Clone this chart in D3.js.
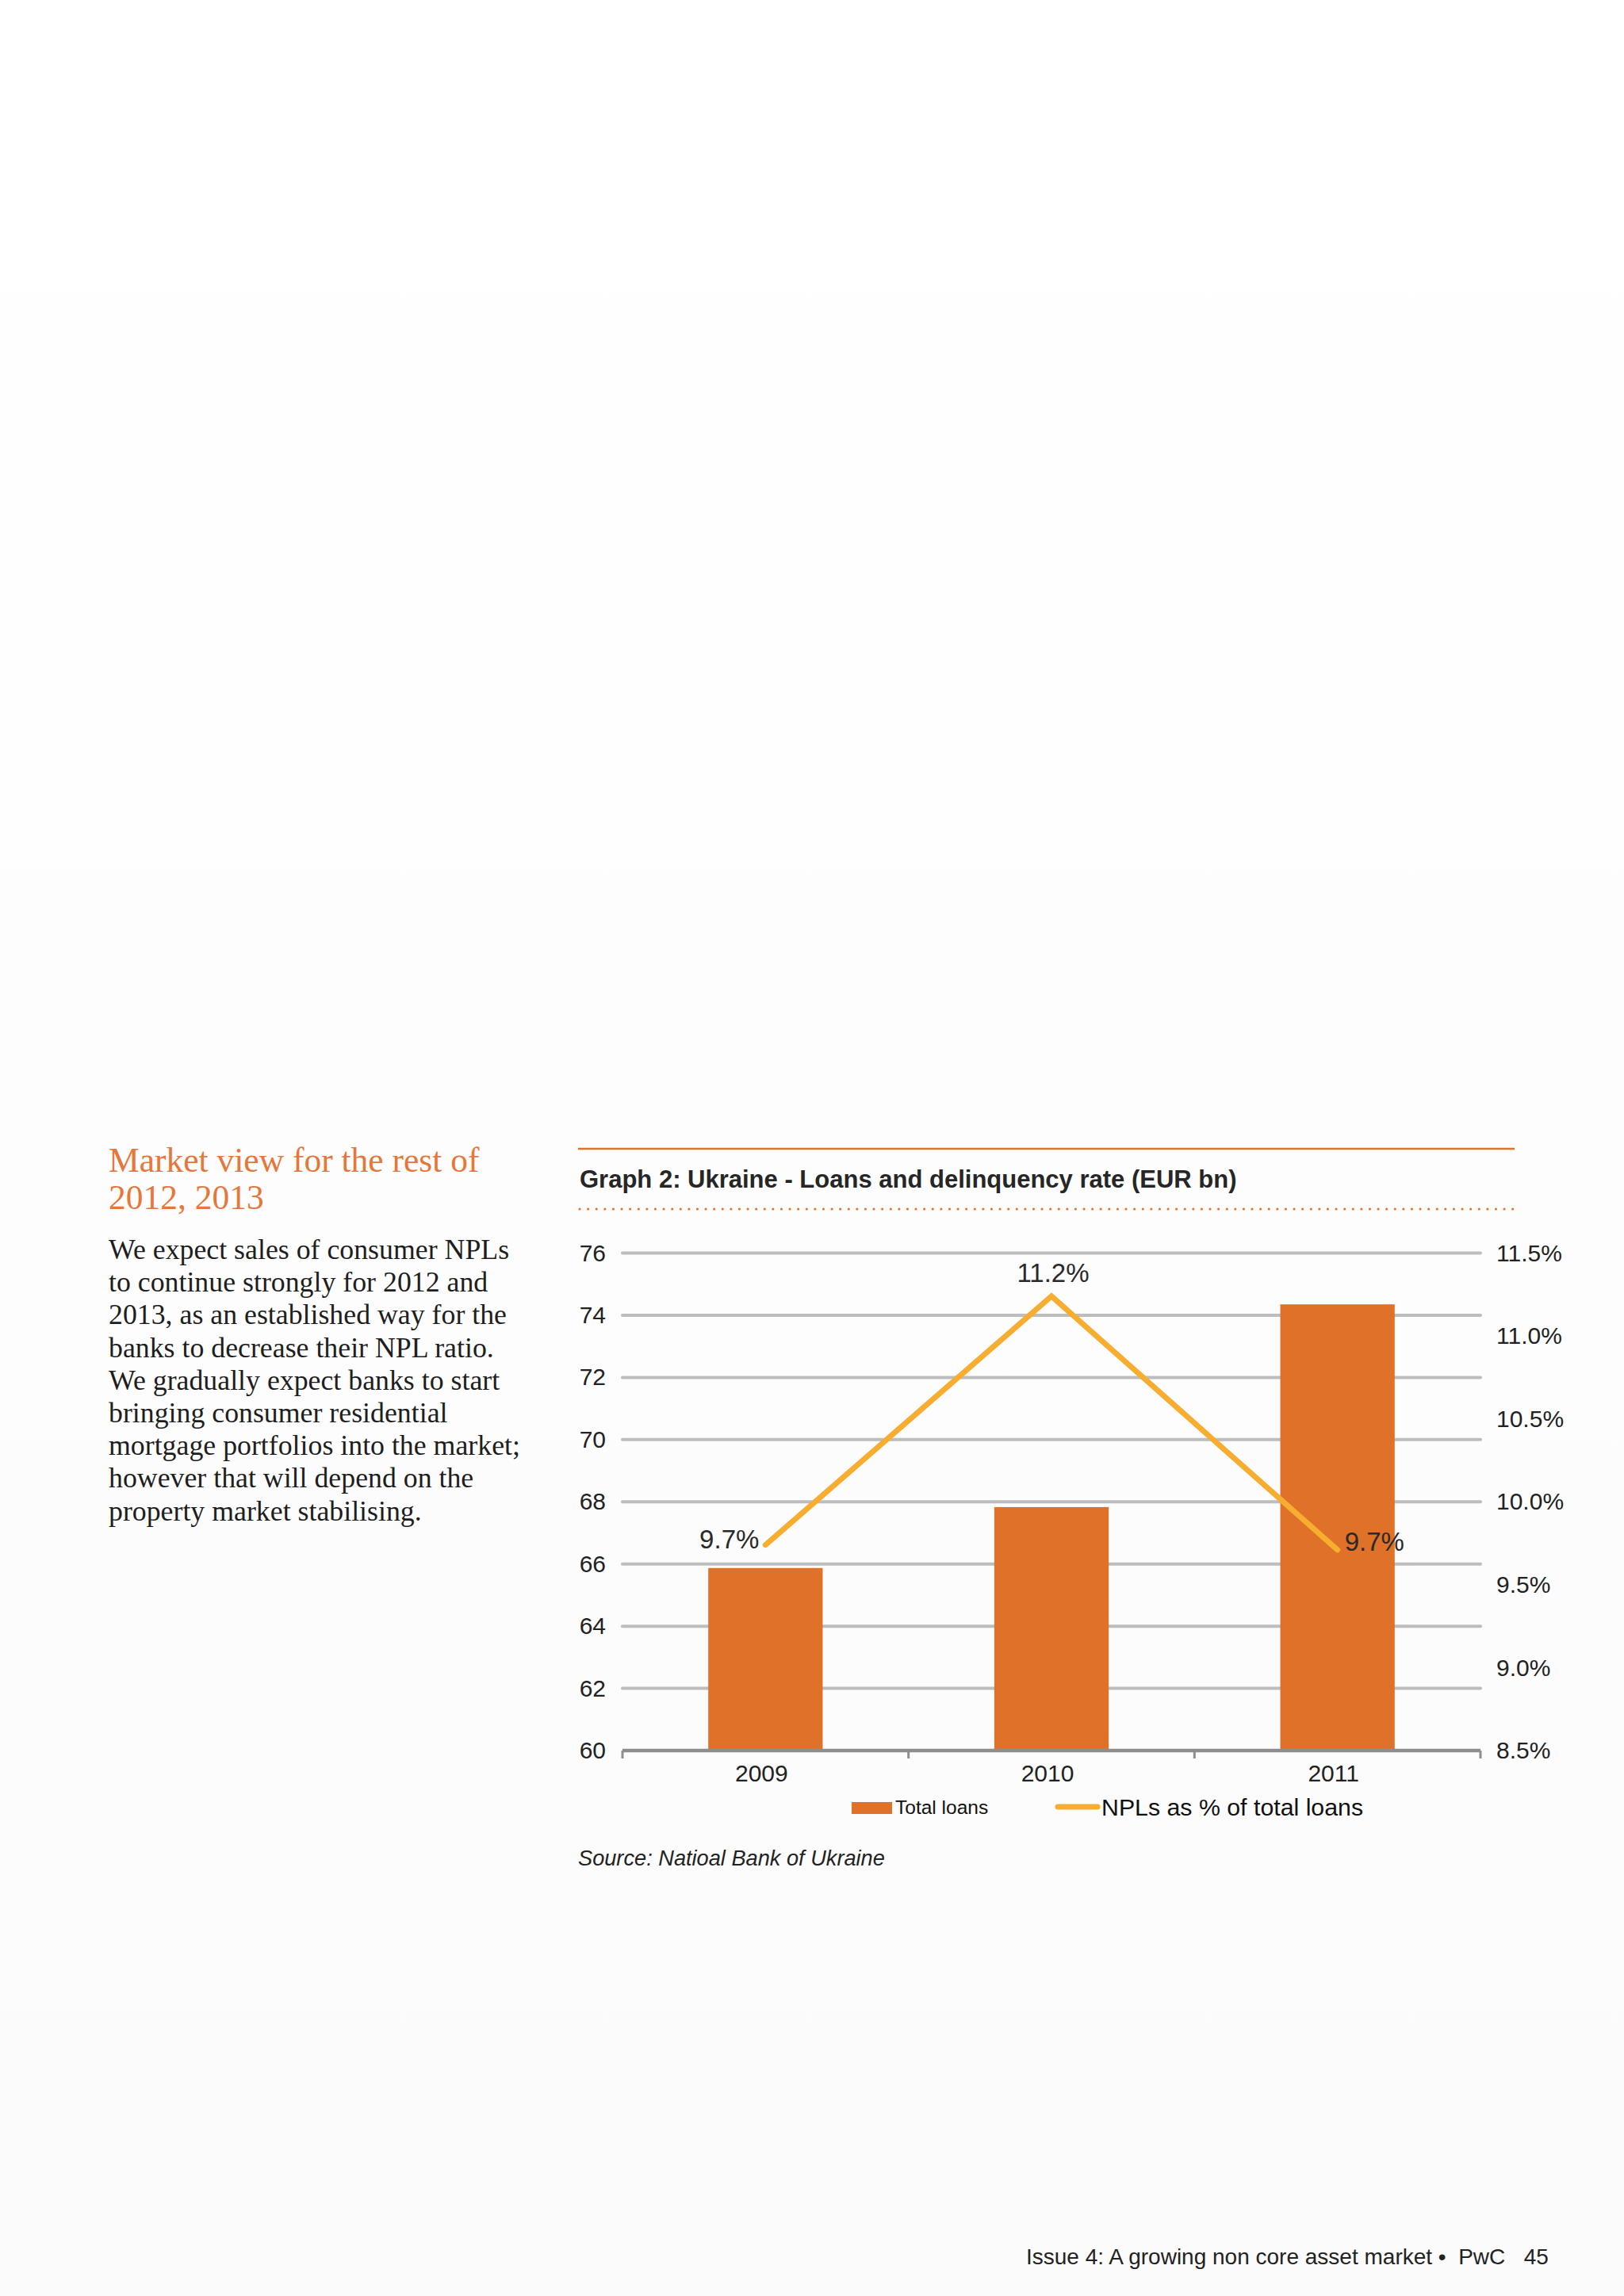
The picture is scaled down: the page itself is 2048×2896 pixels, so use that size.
<!DOCTYPE html>
<html>
<head>
<meta charset="utf-8">
<script src="https://cdn.jsdelivr.net/npm/d3@7"></script>
<style>
  html, body { margin: 0; padding: 0; background: #fefefe; }
  svg { display: block; }
</style>
</head>
<body>
<div id="page"></div>
<script>
// Data
var years = ["2009", "2010", "2011"];
var totalLoans = [65.87, 67.83, 74.35];     // EUR bn, left axis
var nplRatio = [9.74, 11.24, 9.71];         // %, right axis
var nplLabels = ["9.7%", "11.2%", "9.7%"];
var leftTicks = [60, 62, 64, 66, 68, 70, 72, 74, 76];
var rightTicks = [8.5, 9.0, 9.5, 10.0, 10.5, 11.0, 11.5];

var headingLines = ["Market view for the rest of", "2012, 2013"];
var bodyLines = [
  "We expect sales of consumer NPLs",
  "to continue strongly for 2012 and",
  "2013, as an established way for the",
  "banks to decrease their NPL ratio.",
  "We gradually expect banks to start",
  "bringing consumer residential",
  "mortgage portfolios into the market;",
  "however that will depend on the",
  "property market stabilising."
];

var W = 2048, H = 2896;
var orange = "#e07129", gold = "#f7ad30", grid = "#bdbdbf", axisCol = "#8e8e90";
var sans = "'Liberation Sans', Arial, sans-serif";
var serif = "'Liberation Serif', 'Times New Roman', serif";

var svg = d3.select("#page").append("svg")
  .attr("width", W).attr("height", H);

// faint page tone
var grad = svg.append("defs").append("linearGradient")
  .attr("id", "bg").attr("x1", 0).attr("y1", 0).attr("x2", 0).attr("y2", 1);
grad.append("stop").attr("offset", "0%").attr("stop-color", "#ffffff");
grad.append("stop").attr("offset", "100%").attr("stop-color", "#fbfbfb");
svg.append("rect").attr("width", W).attr("height", H).attr("fill", "url(#bg)");

// Left column text
svg.append("g").selectAll("text").data(headingLines).join("text")
  .attr("x", 137).attr("y", (d, i) => 1478 + i * 47)
  .style("font-family", serif).style("font-size", "43.5px")
  .attr("fill", "#e5773a").text(d => d);

svg.append("g").selectAll("text").data(bodyLines).join("text")
  .attr("x", 137).attr("y", (d, i) => 1588 + i * 41.2)
  .style("font-family", serif).style("font-size", "35.8px")
  .attr("fill", "#1e1e1e").text(d => d);

// Graph header rules + title
svg.append("line").attr("x1", 729).attr("x2", 1910).attr("y1", 1449).attr("y2", 1449)
  .attr("stroke", orange).attr("stroke-width", 2.5);
svg.append("text").attr("x", 731).attr("y", 1498)
  .style("font-family", sans).style("font-size", "31px").style("font-weight", "bold")
  .attr("fill", "#262626")
  .text("Graph 2: Ukraine - Loans and delinquency rate (EUR bn)");
svg.append("line").attr("x1", 731).attr("x2", 1910).attr("y1", 1525).attr("y2", 1525)
  .attr("stroke", orange).attr("stroke-width", 3)
  .attr("stroke-linecap", "round").attr("stroke-dasharray", "0.1 10.5");

// Scales
var x = d3.scaleBand().domain(years).range([785, 1867]).padding(0);
var yL = d3.scaleLinear().domain([60, 76]).range([2208, 1580.5]);
var yR = d3.scaleLinear().domain([8.5, 11.5]).range([2208, 1580.5]);

var plot = svg.append("g");

// gridlines
plot.append("g").selectAll("line").data(leftTicks.filter(d => d > 60)).join("line")
  .attr("x1", x.range()[0]).attr("x2", x.range()[1])
  .attr("y1", d => yL(d)).attr("y2", d => yL(d))
  .attr("stroke", grid).attr("stroke-width", 4).attr("stroke-linecap", "round");

// bars
var barW = x.bandwidth() * 0.4;
plot.append("g").selectAll("rect").data(years).join("rect")
  .attr("x", d => x(d) + (x.bandwidth() - barW) / 2)
  .attr("y", (d, i) => yL(totalLoans[i]))
  .attr("width", barW)
  .attr("height", (d, i) => yL(60) - yL(totalLoans[i]))
  .attr("fill", orange);

// category axis line + ticks
plot.append("line").attr("x1", x.range()[0]).attr("x2", x.range()[1])
  .attr("y1", yL(60)).attr("y2", yL(60))
  .attr("stroke", axisCol).attr("stroke-width", 4.5);
var bounds = years.map(d => x(d)).concat([x.range()[1]]);
plot.append("g").selectAll("line").data(bounds).join("line")
  .attr("x1", d => d).attr("x2", d => d)
  .attr("y1", yL(60)).attr("y2", yL(60) + 10)
  .attr("stroke", axisCol).attr("stroke-width", 3);

// axis labels
var leftAxis = plot.append("g").attr("transform", "translate(764,0)")
  .call(d3.axisLeft(yL).tickValues(leftTicks).tickSize(0).tickPadding(0));
var rightAxis = plot.append("g").attr("transform", "translate(1887,0)")
  .call(d3.axisRight(yR).tickValues(rightTicks).tickSize(0).tickPadding(0)
    .tickFormat(d => d3.format(".1f")(d) + "%"));
var bottomAxis = plot.append("g").attr("transform", "translate(-5," + (yL(60) + 8) + ")")
  .call(d3.axisBottom(x).tickSize(0).tickPadding(10));
[leftAxis, rightAxis, bottomAxis].forEach(function(a) {
  a.select(".domain").remove();
  a.selectAll("text").style("font-family", sans).style("font-size", "30px").attr("fill", "#222");
});

// NPL line
var pts = years.map((d, i) => [x(d) + x.bandwidth() / 2, yR(nplRatio[i])]);
plot.append("path").datum(pts)
  .attr("d", d3.line())
  .attr("fill", "none").attr("stroke", gold).attr("stroke-width", 7)
  .attr("stroke-linecap", "round").attr("stroke-linejoin", "miter");

// data labels
var labelPos = [
  { dx: -8, dy: 4, anchor: "end" },
  { dx: 2, dy: -18, anchor: "middle" },
  { dx: 9, dy: 1, anchor: "start" }
];
plot.append("g").selectAll("text").data(pts).join("text")
  .attr("x", (d, i) => d[0] + labelPos[i].dx)
  .attr("y", (d, i) => d[1] + labelPos[i].dy)
  .attr("text-anchor", (d, i) => labelPos[i].anchor)
  .style("font-family", sans).style("font-size", "33px").attr("fill", "#2a2a2a")
  .text((d, i) => nplLabels[i]);

// legend
var lg = svg.append("g");
lg.append("rect").attr("x", 1074).attr("y", 2273).attr("width", 51).attr("height", 15).attr("fill", orange);
lg.append("text").attr("x", 1129).attr("y", 2288)
  .style("font-family", sans).style("font-size", "24.5px").attr("fill", "#111").text("Total loans");
lg.append("line").attr("x1", 1334).attr("x2", 1384).attr("y1", 2279).attr("y2", 2279)
  .attr("stroke", gold).attr("stroke-width", 7).attr("stroke-linecap", "round");
lg.append("text").attr("x", 1389).attr("y", 2290)
  .style("font-family", sans).style("font-size", "30.3px").attr("fill", "#111").text("NPLs as % of total loans");

// source
svg.append("text").attr("x", 729).attr("y", 2353)
  .style("font-family", sans).style("font-size", "27.2px").style("font-style", "italic")
  .attr("fill", "#222").text("Source: Natioal Bank of Ukraine");

// footer
svg.append("text").attr("x", 1294).attr("y", 2856)
  .style("font-family", sans).style("font-size", "28px").attr("fill", "#222")
  .attr("xml:space", "preserve")
  .text("Issue 4: A growing non core asset market \u2022  PwC   45");
</script>
</body>
</html>
